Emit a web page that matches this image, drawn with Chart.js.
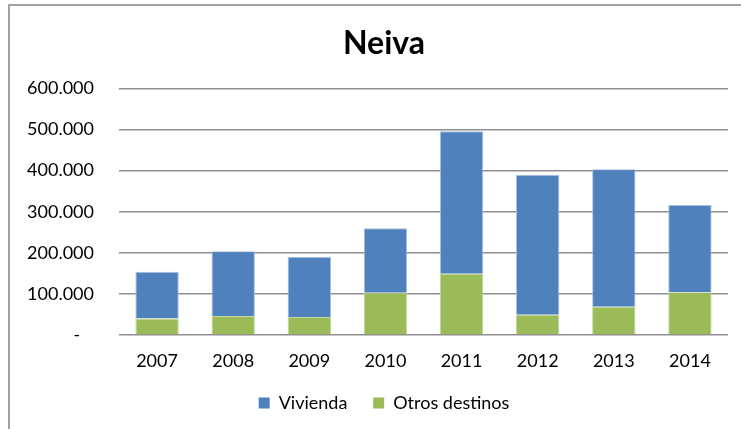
<!DOCTYPE html>
<html>
<head>
<meta charset="utf-8">
<script src="https://cdn.jsdelivr.net/npm/chart.js@4"></script>
<style>
    html, body { margin: 0; padding: 0; background: #fff; }
    .wrap { position: relative; width: 741px; height: 429px; overflow: hidden; }
    .frame { position: absolute; left: 8px; top: 4px; width: 800px; height: 500px; border: 2px solid #a3a3a3; box-sizing: border-box; }
    canvas { position: absolute; left: 0; top: 0; }
</style>
</head>
<body>
<div class="wrap">
    <div class="frame"></div>
    <canvas id="chart-neiva" width="741" height="429"></canvas>
</div>
<script>
// Datos
const years = ['2007', '2008', '2009', '2010', '2011', '2012', '2013', '2014'];
const vivienda = [114000, 158000, 146000, 157000, 347000, 341000, 334000, 212000];
const otrosDestinos = [40000, 46000, 44000, 103000, 149000, 49000, 69000, 104000];
const yTicks = [0, 100000, 200000, 300000, 400000, 500000, 600000];

const FONT = 'Lato, "Open Sans", sans-serif';

function formatMiles(value) {
    if (value === 0) return '-   ';
    return String(value).replace(/\B(?=(\d{3})+(?!\d))/g, '.');
}

// El eje Y es estrecho para centrar título y leyenda como en Excel;
// se amplía solo su zona de recorte para que las etiquetas no se corten
const unclipYLabels = {
    id: 'unclipYLabels',
    afterLayout(chart) {
        chart.scales.y.left = 0;
    }
};

const ctx = document.getElementById('chart-neiva');

new Chart(ctx, {
    type: 'bar',
    data: {
        labels: years,
        datasets: [
            {
                label: 'Otros destinos',
                data: otrosDestinos,
                backgroundColor: '#9bbb59',
                borderColor: '#c3d69b',
                borderWidth: 1
            },
            {
                label: 'Vivienda',
                data: vivienda,
                backgroundColor: '#4f81bd',
                borderColor: '#a7c0de',
                borderWidth: 1
            }
        ]
    },
    plugins: [unclipYLabels],
    options: {
        responsive: false,
        animation: false,
        devicePixelRatio: 1,
        layout: {
            padding: { left: 40, right: 13, top: 0, bottom: 7 }
        },
        datasets: {
            bar: { barPercentage: 0.57, categoryPercentage: 1 }
        },
        plugins: {
            title: {
                display: true,
                text: 'Neiva',
                color: '#000',
                font: { family: FONT, size: 32, weight: 'bold' },
                padding: { top: 24, bottom: 26 }
            },
            legend: {
                position: 'bottom',
                reverse: true,
                labels: {
                    color: '#000',
                    font: { family: FONT, size: 18 },
                    boxWidth: 11,
                    boxHeight: 11,
                    padding: 12,
                    generateLabels(chart) {
                        const items = Chart.defaults.plugins.legend.labels.generateLabels(chart);
                        items.forEach(item => {
                            item.lineWidth = 0;
                            if (item.text === 'Vivienda') item.text = 'Vivienda   ';
                        });
                        return items;
                    }
                }
            },
            tooltip: { enabled: false }
        },
        scales: {
            x: {
                stacked: true,
                grid: { display: false, drawTicks: false },
                border: { display: false },
                ticks: {
                    color: '#000',
                    font: { family: FONT, size: 18 },
                    padding: 15
                },
                afterFit: scale => { scale.height = 47; }
            },
            y: {
                stacked: true,
                min: 0,
                max: 600000,
                afterBuildTicks: scale => { scale.ticks = yTicks.map(v => ({ value: v })); },
                grid: { color: '#8f8f8f', lineWidth: 1.5, drawTicks: false },
                border: { display: false },
                ticks: {
                    color: '#000',
                    font: { family: FONT, size: 18 },
                    padding: 25,
                    callback: value => formatMiles(value)
                },
                afterFit: scale => { scale.width = 79; }
            }
        }
    }
});
</script>
</body>
</html>
